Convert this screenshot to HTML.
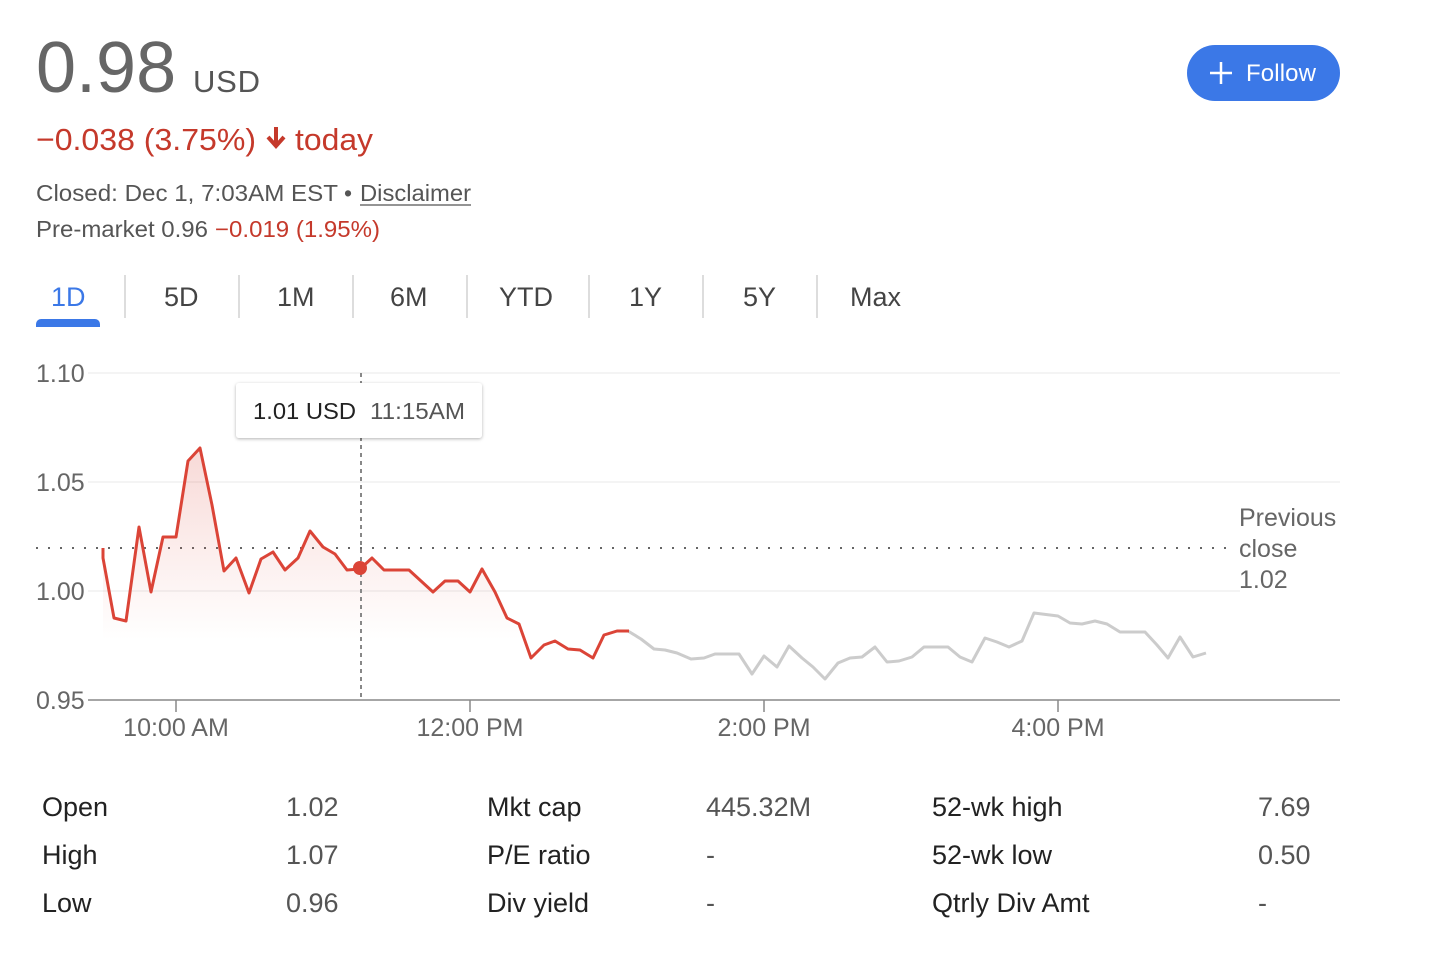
<!DOCTYPE html>
<html><head><meta charset="utf-8"><style>
html,body{margin:0;padding:0;background:#fff;width:1432px;height:960px;overflow:hidden}
svg{display:block;font-family:"Liberation Sans",Arial,sans-serif}
</style></head><body>
<svg width="1432" height="960" viewBox="0 0 1432 960" xmlns="http://www.w3.org/2000/svg">
<defs>
<linearGradient id="g" x1="0" y1="448" x2="0" y2="640" gradientUnits="userSpaceOnUse">
<stop offset="0" stop-color="#db4437" stop-opacity="0.2"/>
<stop offset="1" stop-color="#db4437" stop-opacity="0"/>
</linearGradient>
<filter id="sh" x="-10%" y="-20%" width="120%" height="150%"><feDropShadow dx="0" dy="1" stdDeviation="1.5" flood-color="#000" flood-opacity="0.3"/></filter>
</defs>
<text x="36" y="92" font-size="72" fill="#666">0.98</text>
<text x="193" y="92" font-size="31" fill="#555" textLength="67">USD</text>
<text x="36" y="150" font-size="31" fill="#c5392b" textLength="220" lengthAdjust="spacingAndGlyphs">−0.038 (3.75%)</text>
<path d="M276 127v17M268 137l8 9 8-9" stroke="#c5392b" stroke-width="4" fill="none"/>
<text x="295" y="150" font-size="31" fill="#c5392b" textLength="78" lengthAdjust="spacingAndGlyphs">today</text>
<text x="36" y="201" font-size="23" fill="#555" textLength="302" lengthAdjust="spacingAndGlyphs">Closed: Dec 1, 7:03AM EST</text>
<text x="344" y="201" font-size="23" fill="#555">•</text>
<text x="360" y="201" font-size="23" fill="#555" textLength="111" lengthAdjust="spacingAndGlyphs">Disclaimer</text>
<line x1="360" y1="205" x2="471" y2="205" stroke="#555" stroke-width="1.3"/>
<text x="36" y="237" font-size="23" fill="#555" textLength="172" lengthAdjust="spacingAndGlyphs">Pre-market 0.96</text>
<text x="215" y="237" font-size="23" fill="#c5392b" textLength="165" lengthAdjust="spacingAndGlyphs">−0.019 (1.95%)</text>
<rect x="1187" y="45" width="153" height="56" rx="28" fill="#3b78e7"/>
<path d="M1221 62v22M1210 73h22" stroke="#fff" stroke-width="2.5"/>
<text x="1246" y="81" font-size="24" fill="#fff" textLength="70">Follow</text>
<g font-size="27" fill="#444">
<text x="51" y="306" fill="#3b78e7">1D</text>
<text x="164" y="306">5D</text><text x="277" y="306">1M</text><text x="390" y="306">6M</text>
<text x="499" y="306">YTD</text><text x="629" y="306">1Y</text><text x="743" y="306">5Y</text><text x="850" y="306">Max</text>
</g>
<g stroke="#ddd" stroke-width="2">
<line x1="125" y1="275" x2="125" y2="318"/><line x1="239" y1="275" x2="239" y2="318"/><line x1="353" y1="275" x2="353" y2="318"/><line x1="467" y1="275" x2="467" y2="318"/><line x1="589" y1="275" x2="589" y2="318"/><line x1="703" y1="275" x2="703" y2="318"/><line x1="817" y1="275" x2="817" y2="318"/>
</g>
<path d="M36 327v-3a5 5 0 0 1 5-5h54a5 5 0 0 1 5 5v3z" fill="#3b78e7"/>
<g stroke="#f0f0f0" stroke-width="1.5">
<line x1="88" y1="373" x2="1340" y2="373"/><line x1="88" y1="482" x2="1340" y2="482"/><line x1="88" y1="591" x2="1240" y2="591"/>
</g>
<line x1="88" y1="700" x2="1340" y2="700" stroke="#888" stroke-width="1.5"/>
<g stroke="#888" stroke-width="1.5"><line x1="176" y1="700" x2="176" y2="712"/><line x1="470" y1="700" x2="470" y2="712"/><line x1="764" y1="700" x2="764" y2="712"/><line x1="1058" y1="700" x2="1058" y2="712"/></g>
<g font-size="25" fill="#666">
<text x="36" y="382">1.10</text><text x="36" y="491">1.05</text><text x="36" y="600">1.00</text><text x="36" y="709">0.95</text>
<text x="176" y="736" text-anchor="middle">10:00 AM</text><text x="470" y="736" text-anchor="middle">12:00 PM</text><text x="764" y="736" text-anchor="middle">2:00 PM</text><text x="1058" y="736" text-anchor="middle">4:00 PM</text>
<text x="1239" y="526">Previous</text><text x="1239" y="557">close</text><text x="1239" y="588">1.02</text>
</g>
<line x1="36" y1="548" x2="1230" y2="548" stroke="#666" stroke-width="2" stroke-dasharray="2 10"/>
<path d="M103,548 103,558 114,618 126,621 139,527 151,592 163,537 176,537 188,461 200,448 212,505 224,571 236,558 249,593 261,559 273,552 285,570 298,558 310,531 323,547 335,554 347,570 360,569 372,558 384,570 409,570 433,592 445,581 458,581 470,592 482,569 495,592 507,618 519,624 531,658 544,645 555,641 568,649 580,650 593,658 604,635 617,631 629,631 L629,700 L103,700Z" fill="url(#g)"/>
<polyline points="628,631 641,639 654,649 665,650 677,653 691,659 704,658 715,654 739,654 752,674 764,656 777,667 789,646 802,658 813,667 825,679 838,663 850,658 862,657 875,647 887,662 899,661 912,657 924,647 948,647 960,657 972,662 985,638 997,642 1009,647 1022,641 1034,613 1058,616 1070,623 1082,624 1095,621 1107,624 1120,632 1145,632 1157,645 1168,658 1180,637 1193,657 1206,653" fill="none" stroke="#ccc" stroke-width="3" stroke-linejoin="round"/>
<polyline points="103,548 103,558 114,618 126,621 139,527 151,592 163,537 176,537 188,461 200,448 212,505 224,571 236,558 249,593 261,559 273,552 285,570 298,558 310,531 323,547 335,554 347,570 360,569 372,558 384,570 409,570 433,592 445,581 458,581 470,592 482,569 495,592 507,618 519,624 531,658 544,645 555,641 568,649 580,650 593,658 604,635 617,631 629,631" fill="none" stroke="#db4437" stroke-width="3" stroke-linejoin="round"/>
<line x1="361" y1="373" x2="361" y2="700" stroke="#888" stroke-width="2" stroke-dasharray="4 4"/>
<circle cx="360" cy="568" r="7" fill="#db4437"/>
<rect x="236" y="383" width="246" height="55" rx="3" fill="#fff" filter="url(#sh)"/>
<text x="253" y="419" font-size="23" fill="#222" textLength="103" lengthAdjust="spacingAndGlyphs">1.01 USD</text>
<text x="370" y="419" font-size="23" fill="#555" textLength="95" lengthAdjust="spacingAndGlyphs">11:15AM</text>
<g font-size="27" fill="#222">
<text x="42" y="816">Open</text><text x="42" y="864">High</text><text x="42" y="912">Low</text>
<text x="487" y="816">Mkt cap</text><text x="487" y="864">P/E ratio</text><text x="487" y="912">Div yield</text>
<text x="932" y="816">52-wk high</text><text x="932" y="864">52-wk low</text><text x="932" y="912">Qtrly Div Amt</text>
</g>
<g font-size="27" fill="#555">
<text x="286" y="816">1.02</text><text x="286" y="864">1.07</text><text x="286" y="912">0.96</text>
<text x="706" y="816">445.32M</text><text x="706" y="864">-</text><text x="706" y="912">-</text>
<text x="1258" y="816">7.69</text><text x="1258" y="864">0.50</text><text x="1258" y="912">-</text>
</g>
</svg>
</body></html>
